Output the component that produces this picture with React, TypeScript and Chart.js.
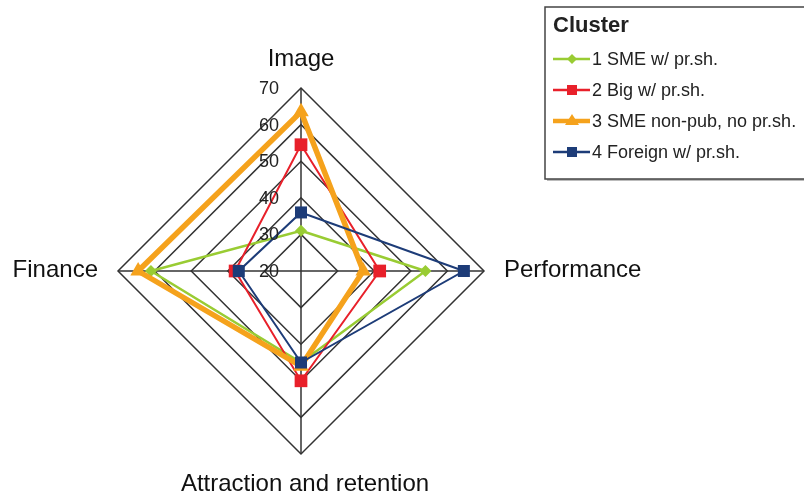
import React, { useEffect, useRef } from "react";
import { Chart, registerables } from "chart.js";

Chart.register(...registerables);

const categories = ["Image", "Performance", "Attraction and retention", "Finance"];
const tickValues = [20, 30, 40, 50, 60, 70];
const legendTitle = "Cluster";

const seriesNames = [
  "1 SME w/ pr.sh.",
  "2 Big w/ pr.sh.",
  "3 SME non-pub, no pr.sh.",
  "4 Foreign w/ pr.sh.",
];
const sme = [31, 54, 45, 61];
const big = [54.5, 41.5, 50, 38];
const smeNonPub = [63.5, 37, 46, 64.5];
const foreign = [36, 64.5, 45, 37];

const FONT = "'Liberation Sans', Arial, sans-serif";

const styles = [
  { color: "#99cc33", width: 2.5, point: "rectRot", radius: 6 },
  { color: "#e8202a", width: 2, point: "rect", radius: 9 },
  { color: "#f5a21c", width: 5.5, point: "triangle", radius: 9 },
  { color: "#1d3c78", width: 2, point: "rect", radius: 8.5 },
];

const labelsPlugin = {
  id: "customLabels",
  afterDatasetsDraw(chart: any) {
    const scale = chart.scales.r;
    const ctx = chart.ctx;
    ctx.save();
    // tick labels
    ctx.font = `18px ${FONT}`;
    ctx.fillStyle = "#222";
    ctx.textAlign = "right";
    ctx.textBaseline = "middle";
    tickValues.forEach((v) => {
      const p = scale.getPointPositionForValue(0, v);
      ctx.fillText(String(v), p.x - 22, p.y + 1);
    });
    // point labels
    ctx.font = `24px ${FONT}`;
    ctx.fillStyle = "#111";
    ctx.textBaseline = "alphabetic";
    const pads = [22, 20, 37, 20];
    categories.forEach((c, i) => {
      const p = scale.getPointPosition(i, scale.drawingArea + pads[i]);
      if (i === 0) {
        ctx.textAlign = "center";
        ctx.fillText(c, p.x, p.y);
      } else if (i === 1) {
        ctx.textAlign = "left";
        ctx.fillText(c, p.x, p.y + 6);
      } else if (i === 2) {
        ctx.textAlign = "center";
        ctx.fillText(c, p.x + 4, p.y);
      } else {
        ctx.textAlign = "right";
        ctx.fillText(c, p.x, p.y + 6);
      }
    });
    ctx.restore();
  },
  afterDraw(chart: any) {
    const ctx = chart.ctx;
    ctx.save();
    // legend box
    const bx = 545, by = 7, bw = 262, bh = 172;
    ctx.fillStyle = "#bbb";
    ctx.fillRect(bx + 2, by + bh, bw, 2);
    ctx.fillStyle = "#fff";
    ctx.fillRect(bx, by, bw, bh);
    ctx.strokeStyle = "#444";
    ctx.lineWidth = 1.5;
    ctx.strokeRect(bx, by, bw, bh);
    ctx.fillStyle = "#222";
    ctx.font = `bold 22px ${FONT}`;
    ctx.textAlign = "left";
    ctx.textBaseline = "alphabetic";
    ctx.fillText(legendTitle, 553, 32);
    ctx.font = `18px ${FONT}`;
    chart.data.datasets.forEach((ds: any, i: number) => {
      const cy = 59 + i * 31;
      const st = styles[i];
      ctx.strokeStyle = st.color;
      ctx.lineWidth = i === 2 ? 4.5 : 2.5;
      ctx.beginPath();
      ctx.moveTo(553, cy);
      ctx.lineTo(590, cy);
      ctx.stroke();
      ctx.fillStyle = st.color;
      ctx.beginPath();
      if (st.point === "rectRot") {
        ctx.moveTo(572, cy - 5);
        ctx.lineTo(577, cy);
        ctx.lineTo(572, cy + 5);
        ctx.lineTo(567, cy);
        ctx.closePath();
        ctx.fill();
      } else if (st.point === "rect") {
        ctx.fillRect(567, cy - 5, 10, 10);
      } else {
        ctx.moveTo(572, cy - 7);
        ctx.lineTo(579, cy + 4);
        ctx.lineTo(565, cy + 4);
        ctx.closePath();
        ctx.fill();
      }
      ctx.fillStyle = "#222";
      ctx.fillText(ds.label, 592, cy + 6);
    });
    ctx.restore();
  },
};

export default function App() {
  const ref = useRef<HTMLCanvasElement>(null);
  useEffect(() => {
    if (!ref.current) return;
    const all = [sme, big, smeNonPub, foreign];
    const chart = new Chart(ref.current, {
      type: "radar",
      data: {
        labels: categories,
        datasets: all.map((d, i) => ({
          label: seriesNames[i],
          data: d,
          borderColor: styles[i].color,
          backgroundColor: styles[i].color,
          borderWidth: styles[i].width,
          pointStyle: styles[i].point as any,
          pointRadius: styles[i].radius,
          pointBorderWidth: 0,
          pointBackgroundColor: styles[i].color,
          fill: false,
          tension: 0,
          order: 4 - i,
        })),
      },
      options: {
        responsive: true,
        maintainAspectRatio: false,
        animation: false,
        layout: { padding: { left: 118, right: 320, top: 88, bottom: 40 } },
        plugins: { legend: { display: false }, tooltip: { enabled: false } },
        scales: {
          r: {
            min: 20,
            max: 70,
            ticks: { stepSize: 10, display: false },
            pointLabels: { display: false },
            grid: { color: "#333", lineWidth: 1.5, circular: false },
            angleLines: { color: "#333", lineWidth: 1.5 },
          },
        },
      },
      plugins: [labelsPlugin],
    });
    return () => chart.destroy();
  }, []);
  return (
    <div style={{ position: "absolute", left: 0, top: 0, width: 804, height: 494, background: "#fff" }}>
      <canvas ref={ref} />
    </div>
  );
}
